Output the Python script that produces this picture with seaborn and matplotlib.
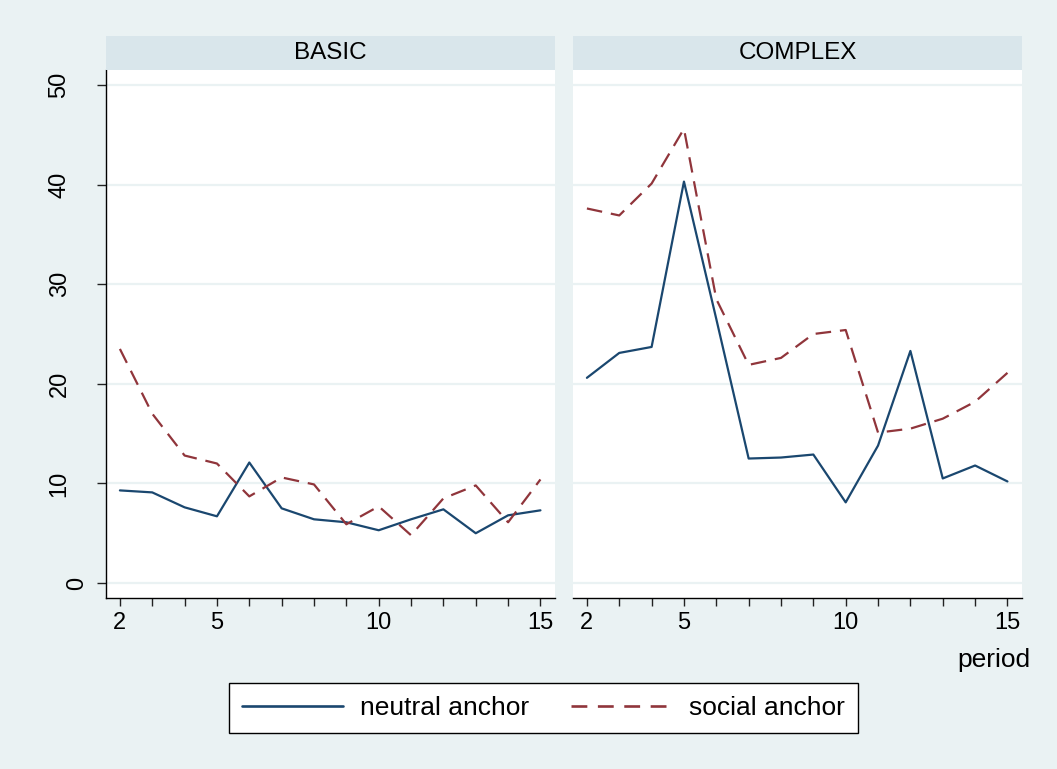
import matplotlib
matplotlib.use("Agg")
import matplotlib.pyplot as plt
from matplotlib.lines import Line2D
from matplotlib.patches import Rectangle
import seaborn as sns
import pandas as pd

# values
periods = list(range(2, 16))
panels = ["BASIC", "COMPLEX"]
anchors = ["neutral anchor", "social anchor"]

basic_neutral = [9.3, 9.1, 7.6, 6.7, 12.1, 7.5, 6.4, 6.1, 5.3, 6.4, 7.4, 5.0, 6.8, 7.3]
basic_social = [23.5, 17.0, 12.8, 12.0, 8.7, 10.6, 9.9, 5.9, 7.7, 4.8, 8.5, 9.8, 6.1, 10.4]
complex_neutral = [20.6, 23.1, 23.7, 40.3, 26.5, 12.5, 12.6, 12.9, 8.1, 13.8, 23.3, 10.5, 11.8, 10.2]
complex_social = [37.6, 36.9, 40.1, 45.6, 28.5, 21.9, 22.6, 25.0, 25.4, 15.1, 15.5, 16.5, 18.2, 21.1]

ytick_values = [0, 10, 20, 30, 40, 50]
xtick_values = [2, 5, 10, 15]

BG = "#EAF2F3"
HEADER = "#D9E6EB"
NAVY = "#1A476F"
MAROON = "#90353B"
W, H = 1057, 769


def build_frame() -> pd.DataFrame:
    series = {
        ("BASIC", "neutral anchor"): basic_neutral,
        ("BASIC", "social anchor"): basic_social,
        ("COMPLEX", "neutral anchor"): complex_neutral,
        ("COMPLEX", "social anchor"): complex_social,
    }
    rows = []
    for (panel, anchor), vals in series.items():
        for p, v in zip(periods, vals):
            rows.append({"panel": panel, "anchor": anchor, "period": p, "value": v})
    return pd.DataFrame(rows)


def main():
    sns.set_style("white")
    plt.rcParams["font.family"] = ["Liberation Sans", "DejaVu Sans"]
    plt.rcParams["text.color"] = "black"
    plt.rcParams["xtick.color"] = "black"
    plt.rcParams["ytick.color"] = "black"
    df = build_frame()

    fig = plt.figure(figsize=(W / 100, H / 100), dpi=100, facecolor=BG)
    boxes = [(106, 449), (573, 449)]
    axes = []
    for (left, width), panel in zip(boxes, panels):
        ax = fig.add_axes([left / W, 1 - 598 / H, width / W, 528 / H])
        ax.set_facecolor("white")
        # header strip
        fig.add_artist(Rectangle((left / W, 1 - 70 / H), width / W, 34 / H,
                                 transform=fig.transFigure, facecolor=HEADER,
                                 edgecolor="none"))
        fig.text((left + width / 2) / W, 1 - 53 / H, panel, ha="center",
                 va="center", fontsize=17.5, color="black")
        sub = df[df["panel"] == panel]
        sns.lineplot(data=sub, x="period", y="value", hue="anchor",
                     style="anchor", hue_order=anchors, style_order=anchors,
                     palette={"neutral anchor": NAVY, "social anchor": MAROON},
                     dashes={"neutral anchor": "", "social anchor": (7, 4)},
                     linewidth=1.6, legend=False, ax=ax)
        ax.set_xlim(1.57, 15.45)
        ax.set_ylim(-1.5, 51.5)
        ax.set_yticks(ytick_values)
        ax.yaxis.grid(True, color=BG, linewidth=1.6)
        ax.xaxis.grid(False)
        ax.set_axisbelow(True)
        ax.set_xticks(xtick_values)
        ax.set_xticklabels([str(v) for v in xtick_values])
        ax.set_xticks(periods, minor=True)
        ax.set_xlabel("")
        ax.set_ylabel("")
        for s in ["top", "right"]:
            ax.spines[s].set_visible(False)
        ax.spines["bottom"].set_color("black")
        ax.spines["bottom"].set_linewidth(1.0)
        ax.tick_params(axis="x", which="both", bottom=True, direction="out",
                       length=6, width=1, color="#222222", pad=4,
                       labelsize=17, labelcolor="black")
        axes.append(ax)

    ax1, ax2 = axes
    ax1.spines["left"].set_color("black")
    ax1.spines["left"].set_linewidth(1.0)
    ax1.tick_params(axis="y", left=True, direction="out", length=6.5, width=1,
                    color="#222222", labelsize=17, labelcolor="black")
    ax1.set_yticklabels([str(v) for v in ytick_values], rotation=90,
                        va="center", ha="right")
    ax2.spines["left"].set_visible(False)
    ax2.tick_params(axis="y", left=False, labelleft=False)

    fig.text(1030 / W, 1 - 660 / H, "period", ha="right", va="center",
             fontsize=19)

    handles = [Line2D([], [], color=NAVY, lw=1.9),
               Line2D([], [], color=MAROON, lw=1.9, dashes=(6, 4))]
    leg = fig.legend(handles, anchors, loc="center",
                     bbox_to_anchor=(543.5 / W, 1 - 708 / H), ncol=2,
                     fontsize=19, frameon=True, fancybox=False,
                     edgecolor="black", framealpha=1, handlelength=3.8,
                     handletextpad=0.65, columnspacing=1.6, borderpad=0.5)
    leg.get_frame().set_linewidth(1.0)

    # Stata pushes the two-digit rotated labels further from the axis
    for tick, v in zip(ax1.yaxis.get_major_ticks(), ytick_values):
        tick.set_pad(6.5 if len(str(v)) == 1 else 19)

    fig.savefig("out.png", dpi=100, facecolor=BG)


if __name__ == "__main__":
    main()
